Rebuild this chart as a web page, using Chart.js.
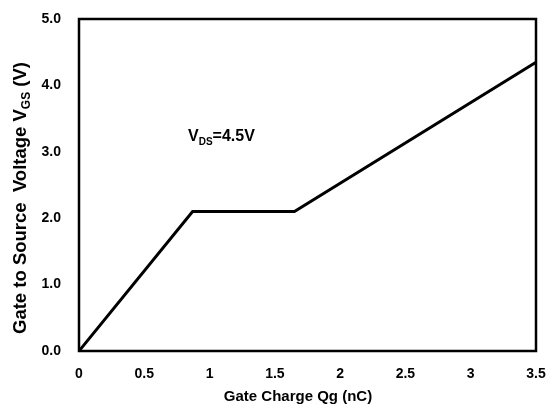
<!DOCTYPE html>
<html>
<head>
<meta charset="utf-8">
<script src="https://cdn.jsdelivr.net/npm/chart.js@4/dist/chart.umd.min.js"></script>
<style>
html,body{margin:0;padding:0;background:#fff;}
#wrap{width:556px;height:411px;}
</style>
</head>
<body>
<div id="wrap"><canvas id="c" width="556" height="411"></canvas></div>
<script>
const charge = [0, 0.87, 1.65, 3.5];
const vgs = [0, 2.1, 2.1, 4.35];
const xTicks = [0, 0.5, 1, 1.5, 2, 2.5, 3, 3.5];
const yTicks = [0, 1, 2, 3, 4, 5];
const FONT = '"Liberation Sans", Arial, sans-serif';

function drawSub(ctx, parts, x, y, align, size, subSize) {
  let total = 0;
  const widths = parts.map(p => {
    ctx.font = 'bold ' + (p[1] ? subSize : size) + 'px ' + FONT;
    const w = ctx.measureText(p[0]).width;
    total += w;
    return w;
  });
  let cx = align === 'center' ? x - total / 2 : x;
  parts.forEach((p, i) => {
    ctx.font = 'bold ' + (p[1] ? subSize : size) + 'px ' + FONT;
    ctx.fillText(p[0], cx, p[1] ? y + size * 0.3 : y);
    cx += widths[i];
  });
}

const extras = {
  id: 'extras',
  afterDraw(chart) {
    const ctx = chart.ctx;
    const a = chart.chartArea;
    ctx.save();
    ctx.strokeStyle = '#000';
    ctx.lineWidth = 2.5;
    ctx.strokeRect(a.left, a.top, a.right - a.left, a.bottom - a.top);
    ctx.fillStyle = '#000';
    ctx.textBaseline = 'middle';
    ctx.textAlign = 'left';
    drawSub(ctx, [['V', false], ['DS', true], ['=4.5V', false]], 188, 137, 'left', 16, 10);
    drawSub(ctx, [['Gate Charge Qg (nC)', false]], 298, 397, 'center', 15, 10);
    ctx.translate(21, 198);
    ctx.rotate(-Math.PI / 2);
    drawSub(ctx, [['Gate to Source  Voltage V', false], ['GS', true], [' (V)', false]], 0, 0, 'center', 18.5, 12);
    ctx.restore();
  }
};

function noPad(s) {
  s.paddingTop = 0; s.paddingBottom = 0; s.paddingLeft = 0; s.paddingRight = 0;
}

new Chart(document.getElementById('c'), {
  type: 'line',
  data: {
    datasets: [{
      data: charge.map((x, i) => ({x: x, y: vgs[i]})),
      borderColor: '#000',
      borderWidth: 3,
      pointRadius: 0,
      fill: false,
      tension: 0
    }]
  },
  options: {
    responsive: false,
    animation: false,
    events: [],
    layout: {padding: {left: 0, right: 20, top: 19, bottom: 0}},
    plugins: {legend: {display: false}, tooltip: {enabled: false}},
    scales: {
      x: {
        type: 'linear', min: 0, max: 3.5,
        afterFit: s => { s.height = 60; noPad(s); },
        afterBuildTicks: s => { s.ticks = xTicks.map(v => ({value: v})); },
        grid: {display: false, drawTicks: false},
        border: {display: false},
        ticks: {
          padding: 15, color: '#000',
          font: {family: FONT, size: 14, weight: 'bold'},
          maxRotation: 0,
          callback: v => String(v)
        }
      },
      y: {
        type: 'linear', min: 0, max: 5,
        afterFit: s => { s.width = 79; noPad(s); },
        afterBuildTicks: s => { s.ticks = yTicks.map(v => ({value: v})); },
        grid: {display: false, drawTicks: false},
        border: {display: false},
        ticks: {
          padding: 18, color: '#000',
          font: {family: FONT, size: 14, weight: 'bold'},
          callback: v => Number(v).toFixed(1)
        }
      }
    }
  },
  plugins: [extras]
});
</script>
</body>
</html>
